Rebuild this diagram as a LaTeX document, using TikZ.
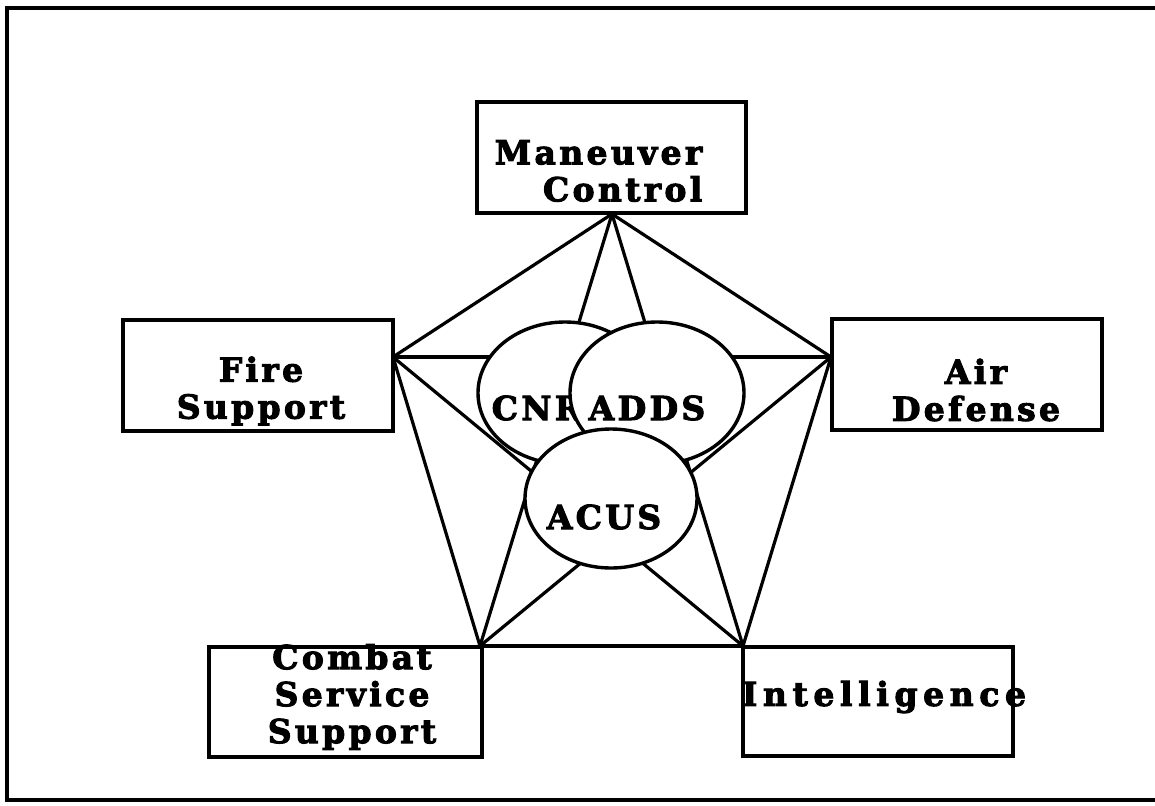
\documentclass[tikz,border=0pt]{standalone}
\usepackage{fontspec}
\setmainfont{DejaVu Serif}[BoldFont={DejaVu Serif Bold}]
\newfontfamily\boxfont{DejaVu Serif Bold}[LetterSpace=10,FakeBold=3]
\newfontfamily\widefont{DejaVu Serif Bold}[LetterSpace=17,FakeBold=3]
\usetikzlibrary{shapes.geometric}
\begin{document}
\begin{tikzpicture}[x=1pt,y=-1pt,
  line width=3.4pt,
  lbl/.style={font=\boxfont\fontsize{33}{37}\selectfont,inner sep=0pt,align=center},
  boxstyle/.style={draw,rectangle,inner sep=0pt,line width=3.2pt},
  ringstyle/.style={draw,ellipse,fill=white,inner sep=0pt,minimum width=174pt,minimum height=142pt,line width=3.4pt},
  link/.style={line width=3.2pt}]
\useasboundingbox (0,0) rectangle (1155,805);
% frame
\draw[line width=3.4pt] (1155,8) -- (7,8) -- (7,800) -- (1155,800);

% boxes
\node[boxstyle,minimum width=269pt,minimum height=111pt] (mcbox) at (611.5,157.5) {};
\node[boxstyle,minimum width=270pt,minimum height=111pt] (fsbox) at (258,375.5) {};
\node[boxstyle,minimum width=270pt,minimum height=111pt] (adbox) at (967,374.5) {};
\node[boxstyle,minimum width=273pt,minimum height=110pt] (cssbox) at (345.5,702) {};

% vertices
\coordinate (mc) at (612,214);
\coordinate (fs) at (393,357);
\coordinate (ad) at (831,357);
\coordinate (css) at (480,646);
\coordinate (int) at (743,646);

% connectors: complete graph
\draw[link] (mc) -- (fs);
\draw[link] (mc) -- (ad);
\draw[link] (fs) -- (css);
\draw[link] (ad) -- (int);
\draw[link] (css) -- (int);
\draw[link] (fs) -- (ad);
\draw[link] (mc) -- (css);
\draw[link] (mc) -- (int);
\draw[link] (fs) -- (int);
\draw[link] (ad) -- (css);

% rings
\node[ringstyle] (cnr) at (565,393) {};
\node[lbl] (cnrt) at (537,408) {CNR};
\node[ringstyle] (adds) at (657,393) {};
\node[lbl] (addst) at (647,408) {ADDS};
\node[ringstyle,minimum width=172pt,minimum height=139pt] (acus) at (611,498.5) {};
\node[lbl] (acust) at (604,517) {ACUS};

% box labels
\node[lbl,align=right,anchor=east] (mct) at (704,171) {Maneuver\\Control};
\node[lbl] (fst) at (261,391) {Fire\\Support};
\node[lbl] (adt) at (976,390) {Air\\Defense};
\node[lbl] (csst) at (352,697) {Combat\\Service\\Support};
\node[lbl,font=\widefont\fontsize{33}{37}\selectfont] (intt) at (884,697) {Intelligence};
\node[boxstyle,minimum width=270pt,minimum height=109pt] (intbox) at (878,701.5) {};
\end{tikzpicture}
\end{document}
